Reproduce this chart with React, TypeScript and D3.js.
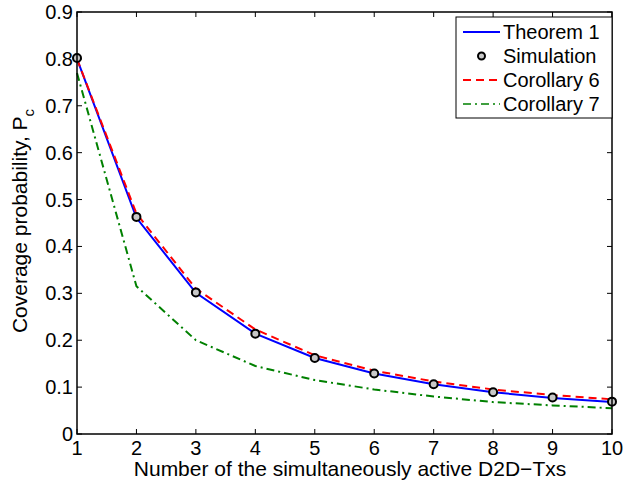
import React from "react";
import * as d3 from "d3";

const xs = [1, 2, 3, 4, 5, 6, 7, 8, 9, 10];
const theorem1 = [0.8, 0.461, 0.301, 0.214, 0.162, 0.129, 0.106, 0.089, 0.077, 0.068];
const simulation = [0.802, 0.463, 0.302, 0.214, 0.162, 0.129, 0.106, 0.089, 0.078, 0.069];
const corollary6 = [0.8, 0.47, 0.31, 0.223, 0.168, 0.135, 0.112, 0.095, 0.083, 0.074];
const corollary7 = [0.77, 0.315, 0.2, 0.145, 0.115, 0.095, 0.08, 0.068, 0.061, 0.055];
const xTicks = [1, 2, 3, 4, 5, 6, 7, 8, 9, 10];
const yTicks = [0, 0.1, 0.2, 0.3, 0.4, 0.5, 0.6, 0.7, 0.8, 0.9];
const legendLabels = ["Theorem 1", "Simulation", "Corollary 6", "Corollary 7"];

const FONT = "'Liberation Sans', Arial, Helvetica, sans-serif";

export default function App() {
  const W = 624, H = 480;
  const L = 77, R = 612, T = 12, B = 434;
  const x = d3.scaleLinear().domain([1, 10]).range([L, R]);
  const y = d3.scaleLinear().domain([0, 0.9]).range([B, T]);
  const line = (vals: number[]) =>
    d3.line<number>().x((_, i) => x(xs[i])).y((v) => y(v))(vals) || "";
  const tl = 5;
  const lx = 456, ly = 17, lw = 156, lh = 101;
  const rows = [32, 56, 80, 104];
  return (
    <svg width={W} height={H} style={{ position: "absolute", left: 0, top: 0, background: "#fff" }}>
      <rect x={0} y={0} width={W} height={H} fill="#fff" />
      {/* ticks */}
      {xTicks.map((t) => (
        <g key={"x" + t}>
          <line x1={x(t)} x2={x(t)} y1={B} y2={B - tl} stroke="#000" strokeWidth={1} />
          <line x1={x(t)} x2={x(t)} y1={T} y2={T + tl} stroke="#000" strokeWidth={1} />
          <text x={x(t)} y={455} textAnchor="middle" fontSize={20} fontFamily={FONT}>{t}</text>
        </g>
      ))}
      {yTicks.map((t) => (
        <g key={"y" + t}>
          <line x1={L} x2={L + tl} y1={y(t)} y2={y(t)} stroke="#000" strokeWidth={1} />
          <line x1={R} x2={R - tl} y1={y(t)} y2={y(t)} stroke="#000" strokeWidth={1} />
          <text x={73} y={y(t) + 7} textAnchor="end" fontSize={20} fontFamily={FONT}>{t === 0 ? "0" : t.toFixed(1)}</text>
        </g>
      ))}
      {/* series */}
      <path d={line(corollary7)} fill="none" stroke="#008000" strokeWidth={2} strokeDasharray="8,4,2,4" />
      <path d={line(theorem1)} fill="none" stroke="#0000ff" strokeWidth={2} />
      <path d={line(corollary6)} fill="none" stroke="#ff0000" strokeWidth={2} strokeDasharray="8,5" />
      {simulation.map((v, i) => (
        <circle key={"s" + i} cx={x(xs[i])} cy={y(v)} r={4} fill="#c8c8c8" stroke="#000" strokeWidth={2} />
      ))}
      {/* axes box */}
      <rect x={L} y={T} width={R - L} height={B - T} fill="none" stroke="#000" strokeWidth={1.5} />
      {/* legend */}
      <rect x={lx} y={ly} width={lw} height={lh} fill="#fff" stroke="#000" strokeWidth={1} />
      <line x1={463} x2={500} y1={rows[0]} y2={rows[0]} stroke="#0000ff" strokeWidth={2} />
      <circle cx={481.5} cy={rows[1]} r={3.5} fill="#c8c8c8" stroke="#000" strokeWidth={2} />
      <line x1={463} x2={500} y1={rows[2]} y2={rows[2]} stroke="#ff0000" strokeWidth={2} strokeDasharray="8,5" />
      <line x1={463} x2={500} y1={rows[3]} y2={rows[3]} stroke="#008000" strokeWidth={1.5} strokeDasharray="8,4,2,4" />
      {legendLabels.map((lab, i) => (
        <text key={lab} x={503} y={rows[i] + 7} fontSize={20} fontFamily={FONT}>{lab}</text>
      ))}
      {/* axis labels */}
      <text x={350} y={476} textAnchor="middle" fontSize={21} fontFamily={FONT}>
        Number of the simultaneously active D2D−Txs
      </text>
      <text transform={`translate(27, 221) rotate(-90)`} textAnchor="middle" fontSize={21} fontFamily={FONT}>
        Coverage probability, P<tspan fontSize={15} dy={7}>c</tspan>
      </text>
    </svg>
  );
}
